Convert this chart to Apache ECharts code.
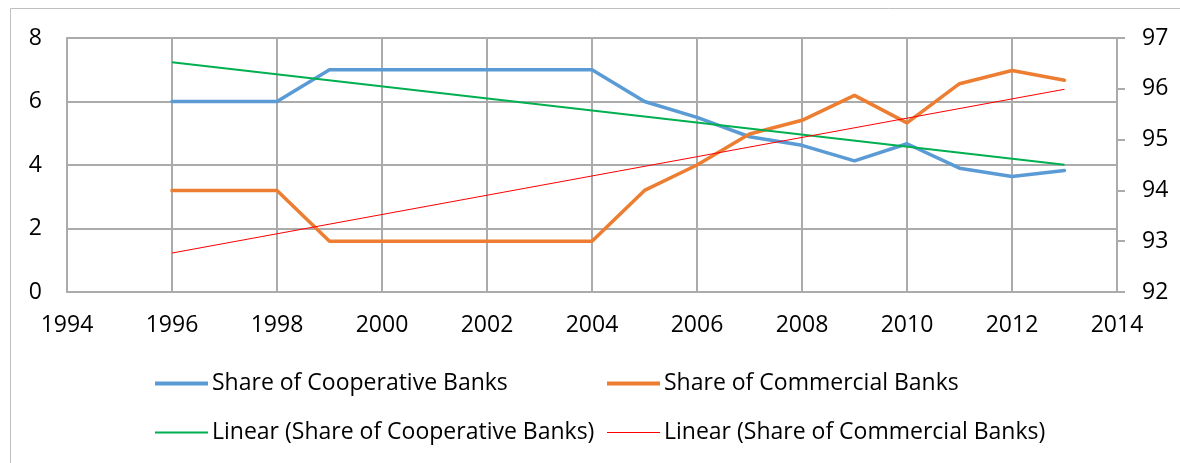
<!DOCTYPE html>
<html>
<head>
<meta charset="utf-8">
<style>
  html, body { margin: 0; padding: 0; background: #fff; }
  #chart { width: 1180px; height: 463px; }
</style>
<script src="https://cdn.jsdelivr.net/npm/echarts@6/dist/echarts.min.js"></script>
</head>
<body>
<div id="chart"></div>
<script>
// Year-by-year shares (%) of the two bank groups
const years = [1996, 1997, 1998, 1999, 2000, 2001, 2002, 2003, 2004,
               2005, 2006, 2007, 2008, 2009, 2010, 2011, 2012, 2013];
const cooperativeShare = [6, 6, 6, 7, 7, 7, 7, 7, 7,
                          6, 5.5, 4.89, 4.62, 4.13, 4.67, 3.9, 3.64, 3.83];
const commercialShare = [94, 94, 94, 93, 93, 93, 93, 93, 93,
                         94, 94.5, 95.11, 95.38, 95.87, 95.33, 96.1, 96.36, 96.17];

// Axis ranges
const yearTicks = { min: 1994, max: 2014, step: 2 };
const leftTicks = { min: 0, max: 8, step: 2 };
const rightTicks = { min: 92, max: 97, step: 1 };

const seriesNames = [
  'Share of Cooperative Banks',
  'Share of Commercial Banks',
  'Linear (Share of Cooperative Banks)',
  'Linear (Share of Commercial Banks)'
];

// Ordinary least-squares trend line over the year range of the data
function linearTrend(xs, ys) {
  const n = xs.length;
  const mx = xs.reduce((a, b) => a + b, 0) / n;
  const my = ys.reduce((a, b) => a + b, 0) / n;
  let sxy = 0, sxx = 0;
  for (let i = 0; i < n; i++) {
    sxy += (xs[i] - mx) * (ys[i] - my);
    sxx += (xs[i] - mx) * (xs[i] - mx);
  }
  const slope = sxy / sxx;
  const x0 = xs[0], x1 = xs[n - 1];
  return [[x0, my + slope * (x0 - mx)], [x1, my + slope * (x1 - mx)]];
}

const pairs = (xs, ys) => xs.map((x, i) => [x, ys[i]]);

const FONT = 'Open Sans';
const GRID_COLOR = '#ABABAB';
const GRID_WIDTH = 2;

const chart = echarts.init(document.getElementById('chart'), null, { renderer: 'canvas' });

// One legend block per entry, with a plain bar key as thick as its line
function legendAt(name, left, top, thickness) {
  return {
    data: [name],
    left: left,
    top: top,
    padding: 0,
    icon: 'rect',
    itemWidth: 53,
    itemHeight: thickness,
    itemGap: 0,
    selectedMode: false,
    textStyle: { fontFamily: FONT, fontSize: 23, color: '#000', padding: [0, 0, 0, -1] }
  };
}

chart.setOption({
  animation: false,
  backgroundColor: '#fff',
  graphic: [{
    type: 'rect',
    shape: { x: 10.5, y: 8.5, width: 1200, height: 500 },
    style: { fill: 'none', stroke: '#BFBFBF', lineWidth: 1 },
    silent: true,
    z: -10
  }],
  grid: { left: 67, right: 63, top: 38, bottom: 171, containLabel: false },
  legend: [
    legendAt(seriesNames[0], 155, 372, 4),
    legendAt(seriesNames[1], 607, 372, 4),
    legendAt(seriesNames[2], 155, 421, 2),
    legendAt(seriesNames[3], 607, 421, 1)
  ],
  xAxis: {
    type: 'value',
    min: yearTicks.min,
    max: yearTicks.max,
    interval: yearTicks.step,
    axisLine: { show: true, lineStyle: { color: GRID_COLOR, width: GRID_WIDTH } },
    axisTick: { show: false },
    splitLine: { show: true, lineStyle: { color: GRID_COLOR, width: GRID_WIDTH } },
    axisLabel: { fontFamily: FONT, fontSize: 23, color: '#000', margin: 22,
                 formatter: v => String(v) }
  },
  yAxis: [
    {
      type: 'value',
      position: 'left',
      min: leftTicks.min,
      max: leftTicks.max,
      interval: leftTicks.step,
      axisLine: { show: true, lineStyle: { color: GRID_COLOR, width: GRID_WIDTH } },
      axisTick: { show: false },
      splitLine: { show: true, lineStyle: { color: GRID_COLOR, width: GRID_WIDTH } },
      axisLabel: { fontFamily: FONT, fontSize: 23, color: '#000', margin: 25 }
    },
    {
      type: 'value',
      position: 'right',
      min: rightTicks.min,
      max: rightTicks.max,
      interval: rightTicks.step,
      axisLine: { show: true, lineStyle: { color: GRID_COLOR, width: GRID_WIDTH } },
      axisTick: { show: true, inside: false, length: 8, lineStyle: { color: GRID_COLOR, width: GRID_WIDTH } },
      splitLine: { show: false },
      axisLabel: { fontFamily: FONT, fontSize: 23, color: '#000', margin: 25 }
    }
  ],
  series: [
    {
      name: seriesNames[0],
      type: 'line',
      yAxisIndex: 0,
      data: pairs(years, cooperativeShare),
      symbol: 'none',
      lineStyle: { color: '#5B9BD5', width: 3.5, join: 'round', cap: 'round' },
      itemStyle: { color: '#5B9BD5' },
      z: 2
    },
    {
      name: seriesNames[1],
      type: 'line',
      yAxisIndex: 1,
      data: pairs(years, commercialShare),
      symbol: 'none',
      lineStyle: { color: '#ED7D31', width: 3.5, join: 'round', cap: 'round' },
      itemStyle: { color: '#ED7D31' },
      z: 2
    },
    {
      name: seriesNames[2],
      type: 'line',
      yAxisIndex: 0,
      data: linearTrend(years, cooperativeShare),
      symbol: 'none',
      lineStyle: { color: '#00B050', width: 2 },
      itemStyle: { color: '#00B050' },
      z: 3
    },
    {
      name: seriesNames[3],
      type: 'line',
      yAxisIndex: 1,
      data: linearTrend(years, commercialShare),
      symbol: 'none',
      lineStyle: { color: '#FF0000', width: 1 },
      itemStyle: { color: '#FF0000' },
      z: 3
    }
  ]
});
</script>
</body>
</html>
